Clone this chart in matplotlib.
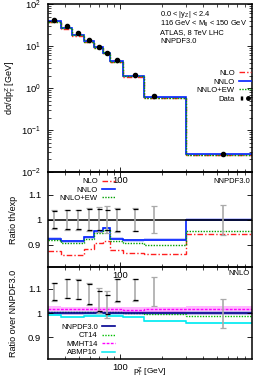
import matplotlib
matplotlib.use("Agg")
import matplotlib.pyplot as plt
from matplotlib.lines import Line2D
from matplotlib.legend_handler import HandlerLine2D, HandlerTuple
from matplotlib.ticker import FixedLocator, FixedFormatter, NullFormatter, LogLocator

plt.rcParams["font.family"] = ["Liberation Sans", "DejaVu Sans"]
plt.rcParams["mathtext.fontset"] = "custom"
plt.rcParams["mathtext.rm"] = "Liberation Sans"
plt.rcParams["mathtext.it"] = "Liberation Sans:italic"
plt.rcParams["mathtext.default"] = "regular"
plt.rcParams["font.size"] = 5.5

# =========================================================
# data
# =========================================================
pt_edges = [30, 37, 45, 55, 65, 75, 85, 105, 150, 300, 900]
pt_data = [33.3, 41, 49.7, 59.8, 69.9, 80, 94.5, 127, 175, 560]

# top panel: d sigma / d pT
xsec_data = [42, 30, 20.6, 14, 9.8, 7.0, 4.7, 2.1, 0.66, 0.0265]
xsec_nlo = [36.8, 25.8, 17.7, 12.4, 8.9, 6.4, 4.14, 1.81, 0.57, 0.025]
xsec_nnlo = [38.8, 27.4, 18.8, 13.0, 9.3, 6.8, 4.35, 1.93, 0.607, 0.0265]
xsec_ew = [38.6, 27.2, 18.6, 12.9, 9.26, 6.72, 4.3, 1.90, 0.594, 0.0253]

# middle panel: theory / data
ratio_nlo = [0.876, 0.86, 0.857, 0.884, 0.907, 0.913, 0.88, 0.866, 0.862, 0.944]
ratio_nnlo = [0.924, 0.913, 0.913, 0.929, 0.953, 0.967, 0.924, 0.917, 0.92, 1.0]
ratio_ew = [0.919, 0.905, 0.905, 0.921, 0.945, 0.96, 0.915, 0.906, 0.90, 0.953]
err_tot = [0.037, 0.04, 0.04, 0.045, 0.05, 0.055, 0.048, 0.047, 0.055, 0.06]
err_unc = [0.035, 0.038, 0.038, 0.041, 0.041, 0.04, 0.044, 0.044]

# bottom panel: PDF sets over NNPDF3.0
pdf_nnpdf = [1.0, 1.0, 1.0, 1.0, 1.0, 1.0, 1.0, 1.0, 1.0, 1.0]
pdf_ct14 = [1.005, 1.003, 1.003, 1.004, 1.004, 1.004, 1.003, 1.0, 0.996, 0.99]
pdf_mmht = [1.018, 1.017, 1.017, 1.017, 1.016, 1.016, 1.015, 1.014, 1.015, 1.018]
pdf_abmp = [0.992, 0.985, 0.985, 0.99, 0.99, 0.99, 0.99, 0.985, 0.967, 0.96]
data_over_nnpdf = [1.088, 1.102, 1.098, 1.08, 1.051, 1.036, 1.095, 1.096, 1.09, 0.998]
err_tot3 = [0.037, 0.041, 0.041, 0.046, 0.051, 0.056, 0.048, 0.046, 0.06, 0.06]
err_unc3 = [0.035, 0.039, 0.039, 0.042, 0.042, 0.04, 0.044, 0.043]

C_NLO = "#ff2020"
C_NNLO = "#0020ff"
C_EW = "#00a000"
LS_NLO = (0, (4, 1.5, 1, 1.5))
LS_EW = (0, (1, 1))
TICK_FS = 6.8
LAB_FS = 6.5
YLAB_X = -0.147


def style_axis(ax):
    ax.set_xscale("log")
    ax.set_xlim(30, 900)
    ax.xaxis.set_major_locator(FixedLocator([100]))
    ax.xaxis.set_major_formatter(FixedFormatter(["100"]))
    ax.xaxis.set_minor_locator(FixedLocator([40, 50, 60, 70, 80, 90, 200, 300, 400, 500, 600, 700, 800]))
    ax.xaxis.set_minor_formatter(NullFormatter())
    ax.tick_params(which="both", direction="in", top=True, right=True, labelsize=TICK_FS)
    ax.tick_params(axis="y", pad=5)
    ax.tick_params(axis="x", pad=3)
    ax.tick_params(which="major", length=3.5, width=0.6)
    ax.tick_params(which="minor", length=2, width=0.5)
    for s in ax.spines.values():
        s.set_linewidth(1.1)
    ax.patch.set_visible(False)


fig = plt.figure(figsize=(2.66, 3.80), dpi=100)
ax1 = fig.add_axes([0.1805, 0.547, 0.7665, 0.442])
ax2 = fig.add_axes([0.1805, 0.297, 0.7665, 0.250])
ax3 = fig.add_axes([0.1805, 0.055, 0.7665, 0.242])

# ---------------- top panel ----------------
style_axis(ax1)
ax1.set_yscale("log")
ax1.set_ylim(1e-2, 1e2)
ax1.yaxis.set_minor_locator(LogLocator(base=10, subs=range(2, 10), numticks=20))
ax1.yaxis.set_minor_formatter(NullFormatter())
lo = [v * 0.975 for v in xsec_nnlo]
hi = [v * 1.025 for v in xsec_nnlo]
ax1.stairs(hi, pt_edges, baseline=lo, fill=True, color="#b8c4ff", lw=0)
ax1.stairs(xsec_nlo, pt_edges, baseline=None, color=C_NLO, lw=1.0, ls=LS_NLO)
ax1.stairs(xsec_nnlo, pt_edges, baseline=None, color=C_NNLO, lw=1.2)
ax1.stairs(xsec_ew, pt_edges, baseline=None, color=C_EW, lw=1.0, ls=LS_EW)
ax1.errorbar(pt_data, xsec_data, yerr=[v * 0.02 for v in xsec_data], fmt="o", color="black",
             ms=3, elinewidth=0.8, capsize=1.5)
ax1.set_ylabel(r"d$\sigma$/dp$_T^Z$ [GeV]", fontsize=LAB_FS)
ax1.yaxis.set_label_coords(YLAB_X, 0.5)

info = ["0.0 < |y$_Z$| < 2.4", "116 GeV < M$_{ll}$ < 150 GeV", "ATLAS, 8 TeV LHC", "NNPDF3.0"]
for i, t in enumerate(info):
    ax1.text(0.55, 0.94 - i * 0.055, t, transform=ax1.transAxes, va="center", ha="left", fontsize=5.4)

h_nlo = Line2D([], [], color=C_NLO, lw=1.0, ls=LS_NLO)
h_nnlo = Line2D([], [], color=C_NNLO, lw=1.2)
h_ew = Line2D([], [], color=C_EW, lw=1.0, ls=LS_EW)
h_bar = Line2D([], [], color="black", lw=0.8, marker="|", ms=3)
h_dot = Line2D([], [], color="black", ls="none", marker="o", ms=2.5)
ax1.legend([h_nlo, h_nnlo, h_ew, (h_bar, h_dot)], ["NLO", "NNLO", "NNLO+EW", "Data"],
           loc="upper right", bbox_to_anchor=(0.995, 0.61), frameon=False, markerfirst=False,
           fontsize=5.5, handlelength=1.6, handletextpad=0.5, labelspacing=0.15,
           borderpad=0, borderaxespad=0,
           handler_map={h_bar: HandlerLine2D(numpoints=2), tuple: HandlerTuple(ndivide=None)})

# ---------------- middle panel ----------------
style_axis(ax2)
ax2.set_ylim(0.81, 1.19)
ax2.yaxis.set_major_locator(FixedLocator([0.9, 1.0, 1.1]))
ax2.yaxis.set_major_formatter(FixedFormatter(["0.9", "1", "1.1"]))
ax2.axhline(1.0, color="black", lw=1.1)
ax2.stairs([v + 0.005 for v in ratio_nnlo], pt_edges, baseline=[v - 0.005 for v in ratio_nnlo],
           fill=True, color="#c8ccff", lw=0)
ax2.stairs(ratio_nlo, pt_edges, baseline=None, color=C_NLO, lw=1.0, ls=LS_NLO)
ax2.stairs(ratio_nnlo, pt_edges, baseline=None, color=C_NNLO, lw=1.2)
ax2.stairs(ratio_ew, pt_edges, baseline=None, color=C_EW, lw=1.0, ls=LS_EW)
ax2.errorbar(pt_data, [1.0] * len(pt_data), yerr=err_tot, fmt="none", ecolor="#aaaaaa",
             elinewidth=1.2, capsize=2, capthick=0.9)
ax2.errorbar(pt_data[:8], [1.0] * 8, yerr=err_unc, fmt="none", ecolor="black",
             elinewidth=0, capsize=1.8, capthick=0.9)
ax2.set_ylabel("Ratio th/exp", fontsize=LAB_FS)
ax2.yaxis.set_label_coords(YLAB_X, 0.5)
ax2.text(0.99, 0.905, "NNPDF3.0", transform=ax2.transAxes, ha="right", va="center", fontsize=5.5)
ax2.legend([h_nlo, h_nnlo, h_ew], ["NLO", "NNLO", "NNLO+EW"], loc="upper right",
           bbox_to_anchor=(0.33, 0.94), frameon=False, markerfirst=False, fontsize=5.5,
           handlelength=1.8, handletextpad=0.5, labelspacing=0.15, borderpad=0, borderaxespad=0)

# ---------------- bottom panel ----------------
style_axis(ax3)
ax3.set_ylim(0.81, 1.19)
ax3.yaxis.set_major_locator(FixedLocator([0.9, 1.0, 1.1]))
ax3.yaxis.set_major_formatter(FixedFormatter(["0.9", "1", "1.1"]))
C_NN = "#000090"
C_CT = "#00c000"
C_MM = "#ff00ff"
C_AB = "#00e8f0"
ax3.stairs([v + 0.008 for v in pdf_nnpdf], pt_edges, baseline=[v - 0.008 for v in pdf_nnpdf],
           fill=True, color="#7060d0", alpha=0.45, lw=0)
ax3.stairs([v + 0.01 for v in pdf_mmht], pt_edges, baseline=[v - 0.01 for v in pdf_mmht],
           fill=True, color="#ff60ff", alpha=0.45, lw=0)
ax3.stairs([v + 0.005 for v in pdf_abmp], pt_edges, baseline=[v - 0.005 for v in pdf_abmp],
           fill=True, color="#70ffff", alpha=0.7, lw=0)
ax3.stairs(pdf_ct14, pt_edges, baseline=None, color=C_CT, lw=1.0, ls=LS_EW)
ax3.stairs(pdf_mmht, pt_edges, baseline=None, color=C_MM, lw=1.0, ls=(0, (2, 1)))
ax3.stairs(pdf_abmp, pt_edges, baseline=None, color=C_AB, lw=1.1)
ax3.stairs(pdf_nnpdf, pt_edges, baseline=None, color=C_NN, lw=1.2)
ax3.errorbar(pt_data, data_over_nnpdf, yerr=err_tot3, fmt="none", ecolor="#aaaaaa",
             elinewidth=1.2, capsize=2, capthick=0.9)
ax3.errorbar(pt_data[:8], data_over_nnpdf[:8], yerr=err_unc3, fmt="none", ecolor="black",
             elinewidth=0, capsize=1.8, capthick=0.9)
ax3.set_ylabel("Ratio over NNPDF3.0", fontsize=LAB_FS)
ax3.yaxis.set_label_coords(YLAB_X, 0.5)
ax3.text(0.99, 0.935, "NNLO", transform=ax3.transAxes, ha="right", va="center", fontsize=5.5)
g_nn = Line2D([], [], color=C_NN, lw=1.2)
g_ct = Line2D([], [], color=C_CT, lw=1.0, ls=LS_EW)
g_mm = Line2D([], [], color=C_MM, lw=1.0, ls=(0, (2, 1)))
g_ab = Line2D([], [], color=C_AB, lw=1.1)
ax3.legend([g_nn, g_ct, g_mm, g_ab], ["NNPDF3.0", "CT14", "MMHT14", "ABMP16"], loc="lower right",
           bbox_to_anchor=(0.33, 0.03), frameon=False, markerfirst=False, fontsize=5.5,
           handlelength=1.8, handletextpad=0.5, labelspacing=0.15, borderpad=0, borderaxespad=0)

fig.text(0.565, 0.003, "p$_T^Z$ [GeV]", ha="center", va="bottom", fontsize=6)

fig.savefig("out.png", dpi=100)
